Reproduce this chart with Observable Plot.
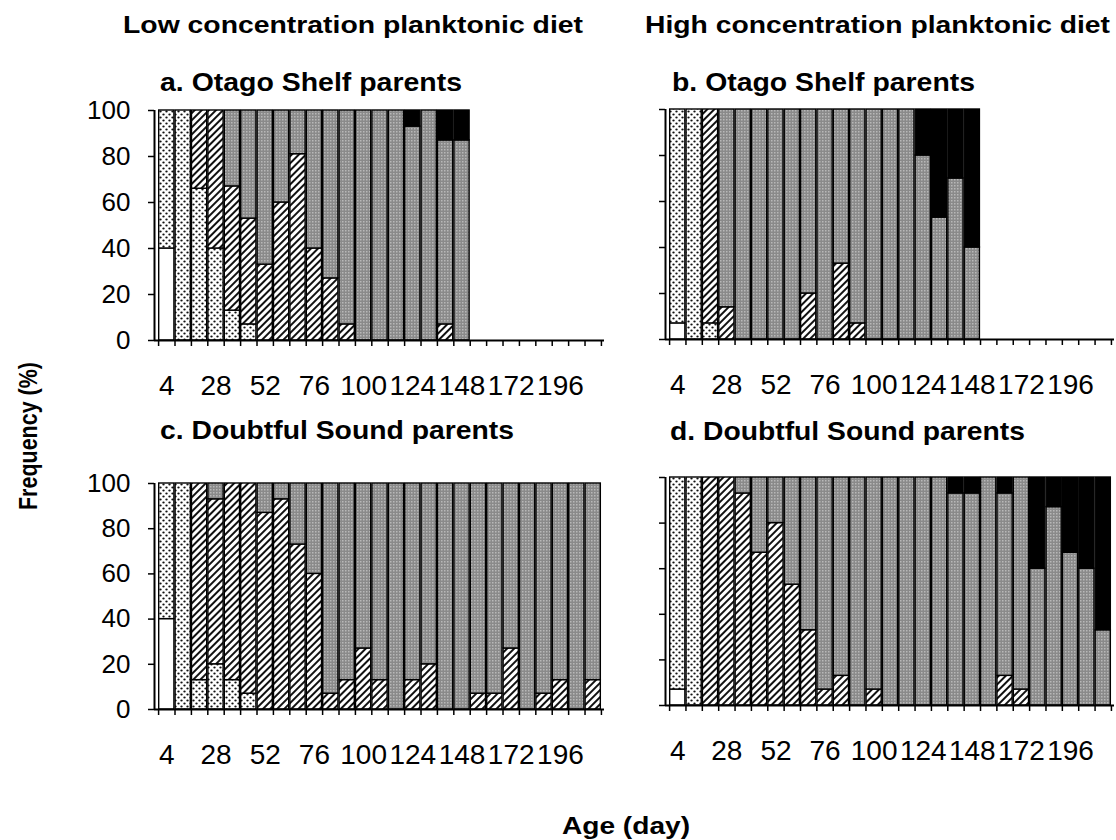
<!DOCTYPE html>
<html><head><meta charset="utf-8">
<script src="https://cdn.jsdelivr.net/npm/d3@7"></script>
<script src="https://cdn.jsdelivr.net/npm/@observablehq/plot@0.6"></script>
<style>
html,body{margin:0;padding:0;background:#fff;}
#root{position:relative;width:1116px;height:840px;overflow:hidden;background:#fff;font-family:"Liberation Sans",Arial,sans-serif;}
.panel{position:absolute;}
#overlay{position:absolute;left:0;top:0;pointer-events:none;}
</style></head><body>
<svg width="0" height="0" style="position:absolute">
<defs>
<pattern id="pDots" width="6" height="6" patternUnits="userSpaceOnUse">
<rect width="6" height="6" fill="#fff"/>
<ellipse cx="1.5" cy="1.5" rx="1.2" ry="1" fill="#111"/>
<ellipse cx="4.5" cy="4.5" rx="1.2" ry="1" fill="#111"/>
</pattern>
<pattern id="pHatch" width="5" height="5" patternUnits="userSpaceOnUse" patternTransform="rotate(45)">
<rect width="5" height="5" fill="#fff"/>
<rect x="0" y="0" width="2" height="5" fill="#111"/>
</pattern>
<pattern id="pGray" width="3" height="3" patternUnits="userSpaceOnUse">
<rect width="3" height="3" fill="#8a8a8a"/>
<rect x="0" y="0" width="1.5" height="1.5" fill="#b8b8b8"/>
</pattern>
</defs></svg>
<div id="root"></div>
<script>
// ---- data ----
const ages = [4,12,20,28,36,44,52,60,68,76,84,92,100,108,116,124,132,140,148,156,164,172,180,188,196,204,212];
const ageTicks = [4,28,52,76,100,124,148,172,196];
const yTicks = [0,20,40,60,80,100];
const stages = ["white","dotted","hatched","gray","black"];
const stageFills = ["#ffffff","url(#pDots)","url(#pHatch)","url(#pGray)","#000000"];

// a. Otago Shelf parents, low concentration (ages 4..148)
const aWhite   = [40,0,0,0,0,0,0,0,0,0,0,0,0,0,0,0,0,0,0];
const aDotted  = [60,100,66,40,13,7,0,0,0,0,0,0,0,0,0,0,0,0,0];
const aHatched = [0,0,34,60,54,46,33,60,81,40,27,7,0,0,0,0,0,7,0];
const aGray    = [0,0,0,0,33,47,67,40,19,60,73,93,100,100,100,93,100,80,87];
const aBlack   = [0,0,0,0,0,0,0,0,0,0,0,0,0,0,0,7,0,13,13];

// b. Otago Shelf parents, high concentration (ages 4..148)
const bWhite   = [7,0,0,0,0,0,0,0,0,0,0,0,0,0,0,0,0,0,0];
const bDotted  = [93,100,7,0,0,0,0,0,0,0,0,0,0,0,0,0,0,0,0];
const bHatched = [0,0,93,14,0,0,0,0,20,0,33,7,0,0,0,0,0,0,0];
const bGray    = [0,0,0,86,100,100,100,100,80,100,67,93,100,100,100,80,53,70,40];
const bBlack   = [0,0,0,0,0,0,0,0,0,0,0,0,0,0,0,20,47,30,60];

// c. Doubtful Sound parents, low concentration (ages 4..212)
const cWhite   = [40,0,0,0,0,0,0,0,0,0,0,0,0,0,0,0,0,0,0,0,0,0,0,0,0,0,0];
const cDotted  = [60,100,13,20,13,7,0,0,0,0,0,0,0,0,0,0,0,0,0,0,0,0,0,0,0,0,0];
const cHatched = [0,0,87,73,87,93,87,93,73,60,7,13,27,13,0,13,20,0,0,7,7,27,0,7,13,0,13];
const cGray    = [0,0,0,7,0,0,13,7,27,40,93,87,73,87,100,87,80,100,100,93,93,73,100,93,87,100,87];
const cBlack   = [0,0,0,0,0,0,0,0,0,0,0,0,0,0,0,0,0,0,0,0,0,0,0,0,0,0,0];

// d. Doubtful Sound parents, high concentration (ages 4..212)
const dWhite   = [7,0,0,0,0,0,0,0,0,0,0,0,0,0,0,0,0,0,0,0,0,0,0,0,0,0,0];
const dDotted  = [93,100,0,0,0,0,0,0,0,0,0,0,0,0,0,0,0,0,0,0,0,0,0,0,0,0,0];
const dHatched = [0,0,100,100,93,67,80,53,33,7,13,0,7,0,0,0,0,0,0,0,13,7,0,0,0,0,0];
const dGray    = [0,0,0,0,7,33,20,47,67,93,87,100,93,100,100,100,100,93,93,100,80,93,60,87,67,60,33];
const dBlack   = [0,0,0,0,0,0,0,0,0,0,0,0,0,0,0,0,0,7,7,0,7,0,40,13,33,40,67];

// ---- build stacked rows ----
function rows(series) {
  const out = [];
  const n = series[0].length;
  for (let i = 0; i < n; i++) {
    let acc = 0;
    series.forEach((s, k) => {
      const v = s[i];
      if (v > 0) out.push({age: ages[i], a1: ages[i] - 4, a2: ages[i] + 4, y1: acc, y2: acc + v, stage: stages[k]});
      acc += v;
    });
  }
  return out;
}
const boundaries = [...ages.map(a => a - 4), ages[ages.length - 1] + 4];

const root = document.getElementById("root");

function panel({data, left, top, width, height, x0, x1, yTop, yBottom, labels}) {
  const chart = Plot.plot({
    width, height,
    marginLeft: x0 - left, marginRight: left + width - x1,
    marginTop: yTop - top, marginBottom: top + height - yBottom,
    style: {fontFamily: "'Liberation Sans', Arial, sans-serif", background: "transparent", overflow: "visible", color: "black"},
    x: {domain: [-2, 217.5], label: null, axis: null},
    y: {domain: [0, 100], label: null, axis: null},
    color: {domain: stages, range: stageFills},
    marks: [
      Plot.rect(data, {x1: "a1", x2: "a2", y1: "y1", y2: "y2", fill: "stage", stroke: "black", strokeWidth: 1.4, insetLeft: 0.6, insetRight: 0.6}),
      Plot.axisX({ticks: boundaries, tickSize: 6, tickFormat: () => "", strokeWidth: 1.5, label: null}),
      Plot.axisX({ticks: ageTicks, tickSize: 0, tickPadding: 35, fontSize: 28, label: null}),
      Plot.axisY({ticks: yTicks, tickSize: 6, tickPadding: 18, fontSize: 26, strokeWidth: 1.5, label: null, tickFormat: labels ? (d => String(d)) : (() => "")}),
      Plot.ruleY([0], {stroke: "black", strokeWidth: 2}),
      Plot.ruleX([-2], {y1: 0, y2: 100, stroke: "black", strokeWidth: 2})
    ]
  });
  const div = document.createElement("div");
  div.className = "panel";
  div.style.left = left + "px";
  div.style.top = top + "px";
  div.appendChild(chart);
  root.appendChild(div);
}

panel({data: rows([aWhite,aDotted,aHatched,aGray,aBlack]), left: 60, top: 95, width: 560, height: 320, x0: 154, x1: 604, yTop: 110, yBottom: 340, labels: true});
panel({data: rows([bWhite,bDotted,bHatched,bGray,bBlack]), left: 600, top: 95, width: 516, height: 320, x0: 665, x1: 1114, yTop: 109, yBottom: 339, labels: false});
panel({data: rows([cWhite,cDotted,cHatched,cGray,cBlack]), left: 60, top: 465, width: 560, height: 320, x0: 154, x1: 604, yTop: 483, yBottom: 709, labels: true});
panel({data: rows([dWhite,dDotted,dHatched,dGray,dBlack]), left: 600, top: 465, width: 516, height: 320, x0: 665, x1: 1114, yTop: 477, yBottom: 705, labels: false});

// ---- titles ----
const titles = [
  {t: "Low concentration planktonic diet", x: 123, y: 33, w: 460, fs: 24},
  {t: "High concentration planktonic diet", x: 645, y: 33, w: 465, fs: 24},
  {t: "a. Otago Shelf parents", x: 160, y: 91, w: 302, fs: 25},
  {t: "b. Otago Shelf parents", x: 672, y: 91, w: 303, fs: 25},
  {t: "c. Doubtful Sound parents", x: 160, y: 439, w: 354, fs: 25},
  {t: "d. Doubtful Sound parents", x: 670, y: 440, w: 355, fs: 25},
  {t: "Age (day)", x: 562, y: 834, w: 128, fs: 24}
];
const NS = "http://www.w3.org/2000/svg";
const ov = document.createElementNS(NS, "svg");
ov.setAttribute("id", "overlay");
ov.setAttribute("width", 1116);
ov.setAttribute("height", 840);
ov.style.fontFamily = "'Liberation Sans', Arial, sans-serif";
for (const d of titles) {
  const tx = document.createElementNS(NS, "text");
  tx.setAttribute("x", d.x); tx.setAttribute("y", d.y);
  tx.setAttribute("font-size", d.fs); tx.setAttribute("font-weight", "bold");
  tx.setAttribute("textLength", d.w); tx.setAttribute("lengthAdjust", "spacingAndGlyphs");
  tx.textContent = d.t;
  ov.appendChild(tx);
}
const yl = document.createElementNS(NS, "text");
yl.setAttribute("transform", "translate(37,510) rotate(-90)");
yl.setAttribute("font-size", 26); yl.setAttribute("font-weight", "bold");
yl.setAttribute("textLength", 148); yl.setAttribute("lengthAdjust", "spacingAndGlyphs");
yl.textContent = "Frequency (%)";
ov.appendChild(yl);
root.appendChild(ov);
</script>
</body></html>
